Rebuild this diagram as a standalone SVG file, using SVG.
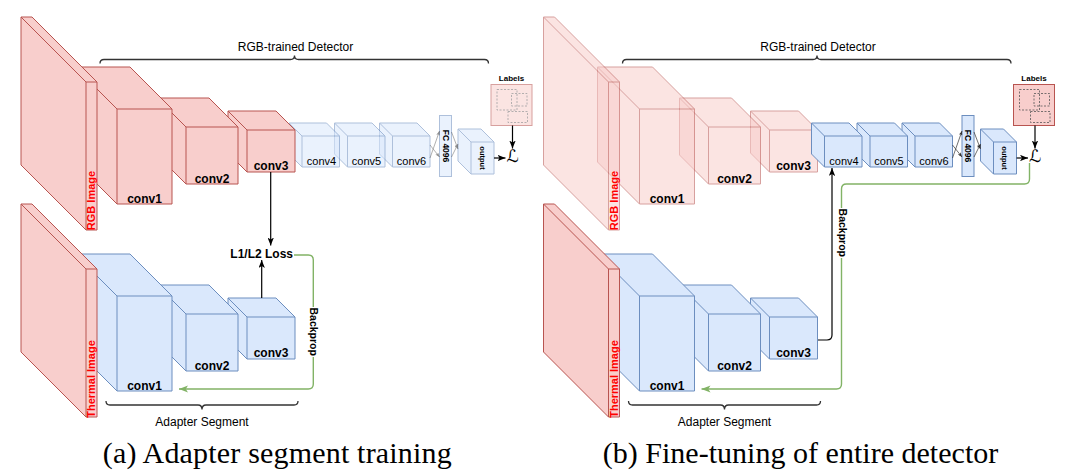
<svg xmlns="http://www.w3.org/2000/svg" width="1074" height="472" viewBox="0 0 1074 472">
<style>
.red{fill:#f8cecc;stroke:#b85450;stroke-width:1}
.blue{fill:#dae8fc;stroke:#6c8ebf;stroke-width:1}
.edge{fill:none}
.fade{opacity:0.55}
.t{font-family:"Liberation Sans",Arial,Helvetica,sans-serif;fill:#000}
.cb{font-size:12px;font-weight:bold;text-anchor:middle}
.cr{font-size:11px;text-anchor:middle}
.img{font-size:11px;font-weight:bold;fill:#ff0000;text-anchor:middle}
.brace{fill:none;stroke:#333;stroke-width:1.3}
.dash{fill:none;stroke:#555;stroke-width:0.8;stroke-dasharray:2 1.5}
.ln{fill:none;stroke:#000;stroke-width:1.2}
.gr{fill:none;stroke:#82b366;stroke-width:1.4}
.thin{fill:none;stroke:#333;stroke-width:0.7}
.cap{font-family:"Liberation Serif","Times New Roman",serif;font-size:30px;fill:#000}
.ell{font-family:"DejaVu Serif","DejaVu Sans",serif;font-size:17px;fill:#000}
</style>
<defs>
<marker id="ah" viewBox="0 0 10 8" markerWidth="8" markerHeight="6.4" refX="10" refY="4" orient="auto" markerUnits="userSpaceOnUse"><path d="M0,0 L10,4 L0,8 L2.5,4 Z" fill="#000"/></marker>
<marker id="ahg" viewBox="0 0 10 8" markerWidth="9" markerHeight="7.2" refX="10" refY="4" orient="auto" markerUnits="userSpaceOnUse"><path d="M0,0 L10,4 L0,8 L2.5,4 Z" fill="#82b366"/></marker>
<marker id="ahs" viewBox="0 0 10 8" markerWidth="4.5" markerHeight="3.6" refX="10" refY="4" orient="auto" markerUnits="userSpaceOnUse"><path d="M0,0 L10,4 L0,8 L2.5,4 Z" fill="#333"/></marker>
</defs>

<!-- ================= PANEL (a) ================= -->
<g id="a-brace-detector">
<path class="brace" d="M100,63.5 Q100,59.5 104,59.5 H290.5 Q294.5,59.5 294.5,55.5 Q294.5,59.5 298.5,59.5 H484.5 Q488.5,59.5 488.5,63.5"/>
<text class="t" x="295.5" y="51" font-size="12" text-anchor="middle">RGB-trained Detector</text>
</g>
<g id="a-conv6">
<g class="fade"><path class="blue" d="M379.5,123 H417 L430,136 V167 H392.5 L379.5,154 Z"/><path class="blue edge" d="M379.5,123 L392.5,136 H430 M392.5,136 V167"/></g>
<text class="t cr" x="411.5" y="165">conv6</text>
</g>
<g id="a-conv5">
<g class="fade"><path class="blue" d="M334.5,123 H372 L385,136 V167 H347.5 L334.5,154 Z"/><path class="blue edge" d="M334.5,123 L347.5,136 H385 M347.5,136 V167"/></g>
<text class="t cr" x="366.5" y="165">conv5</text>
</g>
<g id="a-conv4">
<g class="fade"><path class="blue" d="M289,123 H326.5 L339.5,136 V167 H302 L289,154 Z"/><path class="blue edge" d="M289,123 L302,136 H339.5 M302,136 V167"/></g>
<text class="t cr" x="321.5" y="165">conv4</text>
</g>
<g id="a-fc">
<rect class="blue fade" x="439.5" y="115.5" width="12" height="61"/>
<text class="t" transform="translate(445.5,146) rotate(90)" font-size="8.5" font-weight="bold" text-anchor="middle" dy="0.35em">FC 4096</text>
</g>
<g id="a-output">
<g class="fade"><path class="blue" d="M458,129 H481 L494,142 V174 H471 L458,161 Z"/><path class="blue edge" d="M458,129 L471,142 H494 M471,142 V174"/></g>
<text class="t" transform="translate(482.5,158) rotate(90)" font-size="7.5" font-weight="bold" text-anchor="middle" dy="0.35em">output</text>
</g>
<g id="a-labels">
<text class="t" x="511.5" y="80.5" font-size="8" font-weight="bold" text-anchor="middle">Labels</text>
<g class="fade"><rect class="red" x="491" y="84.5" width="41" height="41"/>
<rect class="dash" x="497" y="89.5" width="20" height="20.5"/>
<rect class="dash" x="511.5" y="93.5" width="15.5" height="12.5"/>
<rect class="dash" x="508" y="111.5" width="19.5" height="11"/></g>
</g>
<g id="a-loss">
<text class="ell" x="506.5" y="162">ℒ</text>
</g>
<g id="a-rgb-conv3">
<path class="red" d="M228,111 H276 L295,130 V172 H247 L228,153 Z"/><path class="red edge" d="M228,111 L247,130 H295 M247,130 V172"/>
<text class="t cb" x="271" y="170">conv3</text>
</g>
<g id="a-rgb-conv2">
<path class="red" d="M157,98 H209 L238,127 V184 H186 L157,155 Z"/><path class="red edge" d="M157,98 L186,127 H238 M186,127 V184"/>
<text class="t cb" x="212" y="182.5">conv2</text>
</g>
<g id="a-rgb-conv1">
<path class="red" d="M75,67 H130 L172,109 V204 H117 L75,162 Z"/><path class="red edge" d="M75,67 L117,109 H172 M117,109 V204"/>
<text class="t cb" x="144.5" y="203">conv1</text>
</g>
<g id="a-rgb-image">
<path class="red" d="M21,17 H32 L97,82 V230 H86 L21,165 Z"/><path class="red edge" d="M21,17 L86,82 H97 M86,82 V230"/>
<text class="t img" transform="translate(91.5,200.5) rotate(-90)" dy="0.36em">RGB Image</text>
</g>
<g id="a-th-conv3">
<path class="blue" d="M228,298 H276 L295,317 V359 H247 L228,340 Z"/><path class="blue edge" d="M228,298 L247,317 H295 M247,317 V359"/>
<text class="t cb" x="271" y="357">conv3</text>
</g>
<g id="a-th-conv2">
<path class="blue" d="M157,285 H209 L238,314 V371 H186 L157,342 Z"/><path class="blue edge" d="M157,285 L186,314 H238 M186,314 V371"/>
<text class="t cb" x="212" y="369.5">conv2</text>
</g>
<g id="a-th-conv1">
<path class="blue" d="M75,254 H130 L172,296 V391 H117 L75,349 Z"/><path class="blue edge" d="M75,254 L117,296 H172 M117,296 V391"/>
<text class="t cb" x="144.5" y="390">conv1</text>
</g>
<g id="a-thermal-image">
<path class="red" d="M21,204 H32 L97,269 V417 H86 L21,352 Z"/><path class="red edge" d="M21,204 L86,269 H97 M86,269 V417"/>
<text class="t img" transform="translate(91.5,379) rotate(-90)" dy="0.36em">Thermal Image</text>
</g>
<g id="a-l1l2">
<text class="t cb" x="261.7" y="258.3">L1/L2 Loss</text>
</g>
<g id="a-brace-adapter">
<path class="brace" d="M106,401 Q106,405 110,405 H198 Q202,405 202,409.5 Q202,405 206,405 H294 Q298,405 298,401"/>
<text class="t" x="202" y="425.5" font-size="12" text-anchor="middle">Adapter Segment</text>
</g>
<g id="a-caption">
<text class="cap" x="102.7" y="463.3" textLength="349" lengthAdjust="spacing">(a) Adapter segment training</text>
</g>

<!-- ================= PANEL (b) ================= -->
<g id="b-brace-detector" transform="translate(522.5,0)">
<path class="brace" d="M100,63.5 Q100,59.5 104,59.5 H290.5 Q294.5,59.5 294.5,55.5 Q294.5,59.5 298.5,59.5 H484.5 Q488.5,59.5 488.5,63.5"/>
<text class="t" x="295.5" y="51" font-size="12" text-anchor="middle">RGB-trained Detector</text>
</g>
<g id="b-rgb-conv3" transform="translate(522.5,0)">
<g class="fade"><path class="red" d="M228,111 H276 L295,130 V172 H247 L228,153 Z"/><path class="red edge" d="M228,111 L247,130 H295 M247,130 V172"/></g>
<text class="t cb" x="271" y="170">conv3</text>
</g>
<g id="b-rgb-conv2" transform="translate(522.5,0)">
<g class="fade"><path class="red" d="M157,98 H209 L238,127 V184 H186 L157,155 Z"/><path class="red edge" d="M157,98 L186,127 H238 M186,127 V184"/></g>
<text class="t cb" x="212" y="182.5">conv2</text>
</g>
<g id="b-rgb-conv1" transform="translate(522.5,0)">
<g class="fade"><path class="red" d="M75,67 H130 L172,109 V204 H117 L75,162 Z"/><path class="red edge" d="M75,67 L117,109 H172 M117,109 V204"/></g>
<text class="t cb" x="144.5" y="203">conv1</text>
</g>
<g id="b-rgb-image" transform="translate(522.5,0)">
<g class="fade"><path class="red" d="M21,17 H32 L97,82 V230 H86 L21,165 Z"/><path class="red edge" d="M21,17 L86,82 H97 M86,82 V230"/></g>
<text class="t img" transform="translate(91.5,200.5) rotate(-90)" dy="0.36em">RGB Image</text>
</g>
<g id="b-conv6" transform="translate(522.5,0)">
<path class="blue" d="M379.5,123 H417 L430,136 V167 H392.5 L379.5,154 Z"/><path class="blue edge" d="M379.5,123 L392.5,136 H430 M392.5,136 V167"/>
<text class="t cr" x="411.5" y="165">conv6</text>
</g>
<g id="b-conv5" transform="translate(522.5,0)">
<path class="blue" d="M334.5,123 H372 L385,136 V167 H347.5 L334.5,154 Z"/><path class="blue edge" d="M334.5,123 L347.5,136 H385 M347.5,136 V167"/>
<text class="t cr" x="366.5" y="165">conv5</text>
</g>
<g id="b-conv4" transform="translate(522.5,0)">
<path class="blue" d="M289,123 H326.5 L339.5,136 V167 H302 L289,154 Z"/><path class="blue edge" d="M289,123 L302,136 H339.5 M302,136 V167"/>
<text class="t cr" x="321.5" y="165">conv4</text>
</g>
<g id="b-fc" transform="translate(522.5,0)">
<rect class="blue" x="439.5" y="115.5" width="12" height="61"/>
<text class="t" transform="translate(445.5,146) rotate(90)" font-size="8.5" font-weight="bold" text-anchor="middle" dy="0.35em">FC 4096</text>
</g>
<g id="b-output" transform="translate(522.5,0)">
<path class="blue" d="M458,129 H481 L494,142 V174 H471 L458,161 Z"/><path class="blue edge" d="M458,129 L471,142 H494 M471,142 V174"/>
<text class="t" transform="translate(482.5,158) rotate(90)" font-size="7.5" font-weight="bold" text-anchor="middle" dy="0.35em">output</text>
</g>
<g id="b-labels" transform="translate(522.5,0)">
<text class="t" x="511.5" y="80.5" font-size="8" font-weight="bold" text-anchor="middle">Labels</text>
<rect class="red" x="491" y="84.5" width="41" height="41"/>
<rect class="dash" x="497" y="89.5" width="20" height="20.5"/>
<rect class="dash" x="511.5" y="93.5" width="15.5" height="12.5"/>
<rect class="dash" x="508" y="111.5" width="19.5" height="11"/>
</g>
<g id="b-loss" transform="translate(522.5,0)">
<text class="ell" x="506.5" y="162">ℒ</text>
</g>
<g id="b-th-conv3" transform="translate(522.5,0)">
<path class="blue" d="M228,298 H276 L295,317 V359 H247 L228,340 Z"/><path class="blue edge" d="M228,298 L247,317 H295 M247,317 V359"/>
<text class="t cb" x="271" y="357">conv3</text>
</g>
<g id="b-th-conv2" transform="translate(522.5,0)">
<path class="blue" d="M157,285 H209 L238,314 V371 H186 L157,342 Z"/><path class="blue edge" d="M157,285 L186,314 H238 M186,314 V371"/>
<text class="t cb" x="212" y="369.5">conv2</text>
</g>
<g id="b-th-conv1" transform="translate(522.5,0)">
<path class="blue" d="M75,254 H130 L172,296 V391 H117 L75,349 Z"/><path class="blue edge" d="M75,254 L117,296 H172 M117,296 V391"/>
<text class="t cb" x="144.5" y="390">conv1</text>
</g>
<g id="b-thermal-image" transform="translate(522.5,0)">
<path class="red" d="M21,204 H32 L97,269 V417 H86 L21,352 Z"/><path class="red edge" d="M21,204 L86,269 H97 M86,269 V417"/>
<text class="t img" transform="translate(91.5,379) rotate(-90)" dy="0.36em">Thermal Image</text>
</g>
<g id="b-brace-adapter" transform="translate(522.5,0)">
<path class="brace" d="M106,401 Q106,405 110,405 H198 Q202,405 202,409.5 Q202,405 206,405 H294 Q298,405 298,401"/>
<text class="t" x="202" y="425.5" font-size="12" text-anchor="middle">Adapter Segment</text>
</g>
<g id="b-caption">
<text class="cap" x="602.7" y="463.3" textLength="395.6" lengthAdjust="spacing">(b) Fine-tuning of entire detector</text>
</g>

<!-- ================= CONNECTORS ================= -->
<g id="connectors">
<path class="ln" d="M270.7,172 V245.5" marker-end="url(#ah)"/>
<path class="ln" d="M261.7,298 V260" marker-end="url(#ah)"/>
<path class="gr" d="M294,255 H308.3 Q313.3,255 313.3,260 V384 Q313.3,389 308.3,389 H179" marker-end="url(#ahg)"/>
<rect x="307.5" y="307" width="12" height="50" fill="#fff"/>
<text class="t" transform="translate(313.3,331.7) rotate(90)" font-size="10.5" font-weight="bold" text-anchor="middle" dy="0.35em">Backprop</text>
<g id="a-head-connectors">
<g class="fade">
<path class="thin" d="M430,145 L439.5,157" marker-end="url(#ahs)"/>
<path class="thin" d="M430,158 L439.5,131" marker-end="url(#ahs)"/>
<path class="thin" d="M451.5,132 L458,149" marker-end="url(#ahs)"/>
<path class="thin" d="M451.5,157 L458,144" marker-end="url(#ahs)"/>
</g>
<path class="ln" d="M494,158 H505.5" marker-end="url(#ah)"/>
<path class="ln" d="M512.5,125.5 V148.5" marker-end="url(#ah)"/>
</g>
<g id="b-head-connectors" transform="translate(522.5,0)">
<path class="thin" d="M430,145 L439.5,157" marker-end="url(#ahs)"/>
<path class="thin" d="M430,158 L439.5,131" marker-end="url(#ahs)"/>
<path class="thin" d="M451.5,132 L458,149" marker-end="url(#ahs)"/>
<path class="thin" d="M451.5,157 L458,144" marker-end="url(#ahs)"/>
<path class="ln" d="M494,158 H505.5" marker-end="url(#ah)"/>
<path class="ln" d="M512.5,125.5 V148.5" marker-end="url(#ah)"/>
</g>
<path class="ln" d="M818,340 H827 Q832,340 832,335 V168" marker-end="url(#ah)"/>
<path class="gr" d="M1029.5,163 V179 Q1029.5,184 1024.5,184 H846.5 Q841.5,184 841.5,189 V384 Q841.5,389 836.5,389 H701.5" marker-end="url(#ahg)"/>
<rect x="836.5" y="208" width="11.5" height="50" fill="#fff"/>
<text class="t" transform="translate(842.3,232.8) rotate(90)" font-size="10.5" font-weight="bold" text-anchor="middle" dy="0.35em">Backprop</text>
</g>
</svg>
